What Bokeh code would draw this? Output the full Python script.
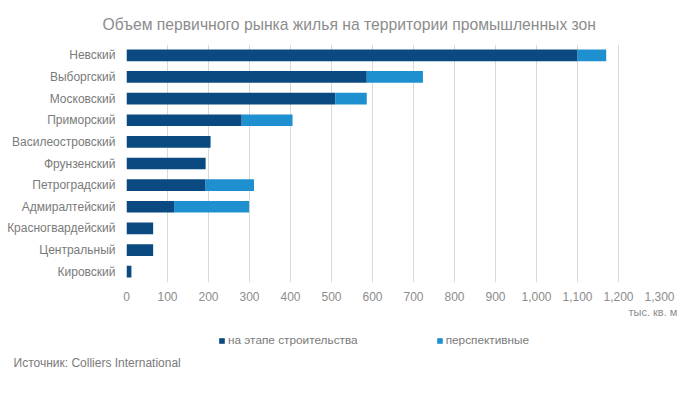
from bokeh.plotting import figure
from bokeh.layouts import column
from bokeh.models import (Legend, LegendItem, NumeralTickFormatter, FactorRange, Range1d,
                          FixedTicker, Title)
from bokeh.embed import file_html
from bokeh.resources import INLINE

districts = ["Невский", "Выборгский", "Московский", "Приморский", "Василеостровский",
             "Фрунзенский", "Петроградский", "Адмиралтейский", "Красногвардейский",
             "Центральный", "Кировский"]
under_construction = [1100, 586, 509, 281, 205, 193, 193, 116, 65, 65, 12]
prospective = [70, 137, 77, 124, 0, 0, 118, 183, 0, 0, 0]
series_names = ["на этапе строительства", "перспективные"]
x_ticks = list(range(0, 1301, 100))
title_text = "Объем первичного рынка жилья на территории промышленных  зон"
units_text = "тыс.  кв.  м"
source_text = "Источник:  Colliers International"

DARK = "#0b4a80"
LIGHT = "#1e8fcf"
FONT = "Liberation Sans"
LEFT, RIGHT = 126, 25

p = figure(width=684, height=322, output_backend="svg", toolbar_location=None,
           y_range=FactorRange(*reversed(districts)), x_range=Range1d(0, 1300),
           min_border_left=LEFT, min_border_right=RIGHT, min_border_top=44, min_border_bottom=40)
p.outline_line_color = None

data = dict(d=districts, a=under_construction, b=prospective)
rs = p.hbar_stack(["a", "b"], y="d", height=0.54, color=[DARK, LIGHT], source=data, line_width=0)

p.xaxis.ticker = FixedTicker(ticks=x_ticks)
p.xaxis.formatter = NumeralTickFormatter(format="0,0")
for ax in (p.xaxis[0], p.yaxis[0]):
    ax.axis_line_color = None
    ax.major_tick_line_color = None
    ax.minor_tick_line_color = None
    ax.major_label_text_font = FONT
    ax.major_label_text_font_size = "12px"
p.xaxis.major_label_text_color = "#8c8c8c"
p.yaxis.major_label_text_color = "#7a7a7a"
p.xaxis.major_label_standoff = 3
p.yaxis.major_label_standoff = 5
p.xgrid.grid_line_color = "#d9d9d9"
p.ygrid.grid_line_color = None

p.title = Title(text=title_text, align="left", offset=-24, standoff=23,
                text_font=FONT, text_font_size="15.7px", text_font_style="normal",
                text_color="#8c8c8c")
p.add_layout(Title(text=units_text, align="right", offset=-24, standoff=0,
                   text_font=FONT, text_font_size="11px", text_font_style="normal",
                   text_color="#8c8c8c"), "below")

# lower strip: legend and source
q = figure(width=684, height=56, output_backend="svg", toolbar_location=None,
           x_range=Range1d(LEFT, 684 - RIGHT), y_range=Range1d(0, 1),
           x_axis_type=None, y_axis_type=None,
           min_border_left=LEFT, min_border_right=RIGHT, min_border_top=0, min_border_bottom=28)
q.outline_line_color = None
q.grid.grid_line_color = None
k0 = q.quad(left=[-10], right=[-9], bottom=[0], top=[1], color=DARK, line_width=0)
k1 = q.quad(left=[-10], right=[-9], bottom=[0], top=[1], color=LIGHT, line_width=0)
legend = Legend(items=[LegendItem(label=series_names[0], renderers=[k0]),
                       LegendItem(label=series_names[1], renderers=[k1])],
                location=(92, 3), orientation="horizontal", padding=0, margin=0,
                spacing=78, glyph_width=7, glyph_height=7, label_standoff=3,
                label_text_font=FONT, label_text_font_size="11.8px", label_text_color="#7a7a7a",
                border_line_color=None, background_fill_alpha=0)
q.add_layout(legend, "center")
q.add_layout(Title(text=source_text, align="left", offset=13 - LEFT, standoff=7,
                   text_font=FONT, text_font_size="12px", text_font_style="normal",
                   text_color="#7a7a7a"), "below")

open("out.html", "w").write(file_html(column(p, q, spacing=0), INLINE))
